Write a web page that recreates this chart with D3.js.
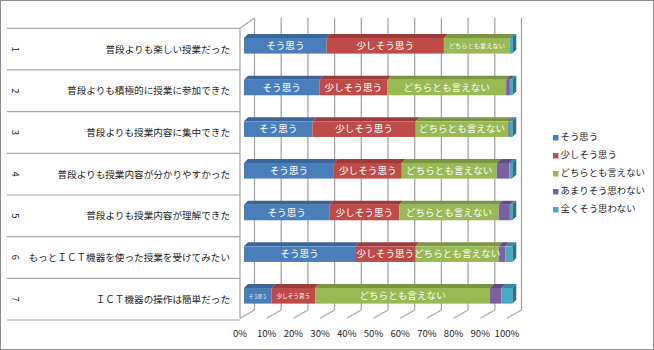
<!DOCTYPE html>
<html><head><meta charset="utf-8">
<script src="https://cdn.jsdelivr.net/npm/d3@7"></script>
<style>body{margin:0;background:#fff}svg{display:block}</style>
</head><body>
<svg id="chart" width="654" height="350"></svg>
<script>
const categories = ["普段よりも楽しい授業だった","普段よりも積極的に授業に参加できた","普段よりも授業内容に集中できた","普段よりも授業内容が分かりやすかった","普段よりも授業内容が理解できた","もっとＩＣＴ機器を使った授業を受けてみたい","ＩＣＴ機器の操作は簡単だった"];
const rowNumbers = ["1","2","3","4","5","6","7"];
const seriesNames = ["そう思う","少しそう思う","どちらとも言えない","あまりそう思わない","全くそう思わない"];
const soOmou      = [30.8, 28.1, 25.5, 33.5, 31.8, 41.4, 10.3];
const sukoshi     = [43.7, 25.3, 38.5, 25.3, 26.1, 22.6, 16.2];
const dochira     = [24.6, 44.3, 34.5, 35.4, 37.0, 30.9, 65.2];
const amari       = [0.0,  1.4,  0.6,  4.7,  4.2,  2.5,  4.3];
const mattaku     = [0.9,  0.9,  0.9,  1.1,  0.9,  2.6,  4.0];
const tickLabels = ["0%","10%","20%","30%","40%","50%","60%","70%","80%","90%","100%"];

const seriesValues = [soOmou, sukoshi, dochira, amari, mattaku];
const front = ["#4A7EBB","#BE4B48","#98B954","#7D60A0","#46AAC5"];
const topC  = ["#3B659A","#9C3B39","#7A9642","#634B82","#3489A0"];
const sideC = ["#2F5484","#83312F","#657E36","#523E6C","#2B7488"];

const svg = d3.select("#chart");
const JP = "'Noto Sans CJK JP','Noto Sans',sans-serif";
svg.append("rect").attr("x",0.5).attr("y",0.5).attr("width",653).attr("height",349)
  .attr("fill","#fff").attr("stroke","#8c8c8c").attr("stroke-width",1);

const xFront = d3.scaleLinear().domain([0,100]).range([240,507]);
const xBack  = d3.scaleLinear().domain([0,100]).range([254.5,521.5]);
const xBar   = d3.scaleLinear().domain([0,100]).range([244,512.3]);
const yRow   = d3.scaleBand().domain(categories).range([28.3,320]);
const ticks = tickLabels.map((t,i)=>i*10);
const gridC = "#a6a6a6";
const yBackTop = 18, yBackBot = 310, yFrontBot = 318.3, yFrontTop = 28.3;

svg.append("g").selectAll("line").data(ticks).join("line")
  .attr("x1",d=>xBack(d)).attr("x2",d=>xBack(d))
  .attr("y1",yBackTop).attr("y2",yBackBot)
  .attr("stroke",gridC).attr("stroke-width",1.3);
svg.append("g").selectAll("line").data(ticks).join("line")
  .attr("x1",d=>xFront(d)).attr("x2",d=>xBack(d))
  .attr("y1",yFrontBot).attr("y2",yBackBot)
  .attr("stroke",gridC).attr("stroke-width",1.1);
svg.append("line").attr("x1",xFront(0)).attr("y1",yFrontTop).attr("x2",xBack(0)).attr("y2",yBackTop)
  .attr("stroke",gridC).attr("stroke-width",1.1);

const tbl = svg.append("g");
const rowLines = categories.map(c=>yRow(c)).concat([yRow.range()[1]]);
tbl.selectAll("line.h").data(rowLines).join("line").attr("class","h")
  .attr("x1",7).attr("x2",xFront(0)).attr("y1",d=>d).attr("y2",d=>d)
  .attr("stroke",gridC).attr("stroke-width",1.2);
tbl.append("line").attr("x1",xFront(0)).attr("x2",xFront(0)).attr("y1",yFrontTop).attr("y2",yFrontBot)
  .attr("stroke",gridC).attr("stroke-width",1.2);
tbl.selectAll("text.cat").data(categories).join("text").attr("class","cat")
  .attr("x",230).attr("y",d=>yRow(d)+yRow.bandwidth()/2+1)
  .attr("text-anchor","end").attr("dominant-baseline","middle")
  .attr("font-family",JP).attr("font-size",9.6).attr("fill","#262626").text(d=>d);
tbl.selectAll("text.num").data(rowNumbers).join("text").attr("class","num")
  .attr("transform",(d,i)=>`translate(15,${yRow(categories[i])+yRow.bandwidth()/2}) rotate(90)`)
  .attr("text-anchor","middle").attr("dominant-baseline","middle")
  .attr("font-family",JP).attr("font-size",9.5).attr("fill","#262626").text(d=>d);

const dx = 4, dy = 4, barOff = 9.7, barH = 15.6;
const stack = categories.map((c,i)=>{
  let acc = 0;
  return seriesValues.map((s,k)=>{ const v=s[i]; const seg={cat:c,k,v,x0:acc,x1:acc+v}; acc+=v; return seg; });
});
const gBars = svg.append("g");
stack.forEach((segs,i)=>{
  const y0 = yRow(categories[i]) + barOff;
  const g = gBars.append("g");
  const nz = segs.filter(s=>s.v>0);
  g.selectAll("path.top").data(nz).join("path").attr("class","top")
    .attr("d",s=>{const a=xBar(s.x0),b=xBar(s.x1);return `M${a},${y0}L${b},${y0}L${b+dx},${y0-dy}L${a+dx},${y0-dy}Z`;})
    .attr("fill",s=>topC[s.k]);
  const last = nz[nz.length-1];
  const e = xBar(last.x1);
  g.append("path").attr("d",`M${e},${y0}L${e+dx},${y0-dy}L${e+dx},${y0-dy+barH}L${e},${y0+barH}Z`)
    .attr("fill",sideC[last.k]);
  g.selectAll("rect.f").data(nz).join("rect").attr("class","f")
    .attr("x",s=>xBar(s.x0)).attr("y",y0).attr("width",s=>xBar(s.x1)-xBar(s.x0)).attr("height",barH)
    .attr("fill",s=>front[s.k]);
  g.selectAll("text").data(segs.filter(s=>s.k<3)).join("text")
    .each(function(s){
      const name = seriesNames[s.k];
      const w = xBar(s.x1)-xBar(s.x0);
      let fs = 9.6;
      if (name.length*fs > w + 6) fs = Math.max(4.3,(w-10)/name.length);
      d3.select(this).attr("x",(xBar(s.x0)+xBar(s.x1))/2).attr("y",y0+barH/2+0.5)
        .attr("text-anchor","middle").attr("dominant-baseline","middle")
        .attr("font-family",JP).attr("font-size",fs).attr("fill","#fff").text(name);
    });
});

svg.append("g").selectAll("text").data(ticks).join("text")
  .attr("x",d=>xFront(d)).attr("y",337).attr("text-anchor","middle")
  .attr("font-family",JP).attr("font-size",9.6).attr("fill","#262626")
  .text((d,i)=>tickLabels[i]);

const lg = svg.append("g");
seriesNames.forEach((n,k)=>{
  const y = 137.7 + k*18;
  lg.append("rect").attr("x",553).attr("y",y-2.7).attr("width",5.5).attr("height",5.5).attr("fill",front[k]);
  lg.append("text").attr("x",560.5).attr("y",y).attr("dominant-baseline","middle")
    .attr("font-family",JP).attr("font-size",9.4).attr("fill","#262626").text(n);
});
</script>
</body></html>
